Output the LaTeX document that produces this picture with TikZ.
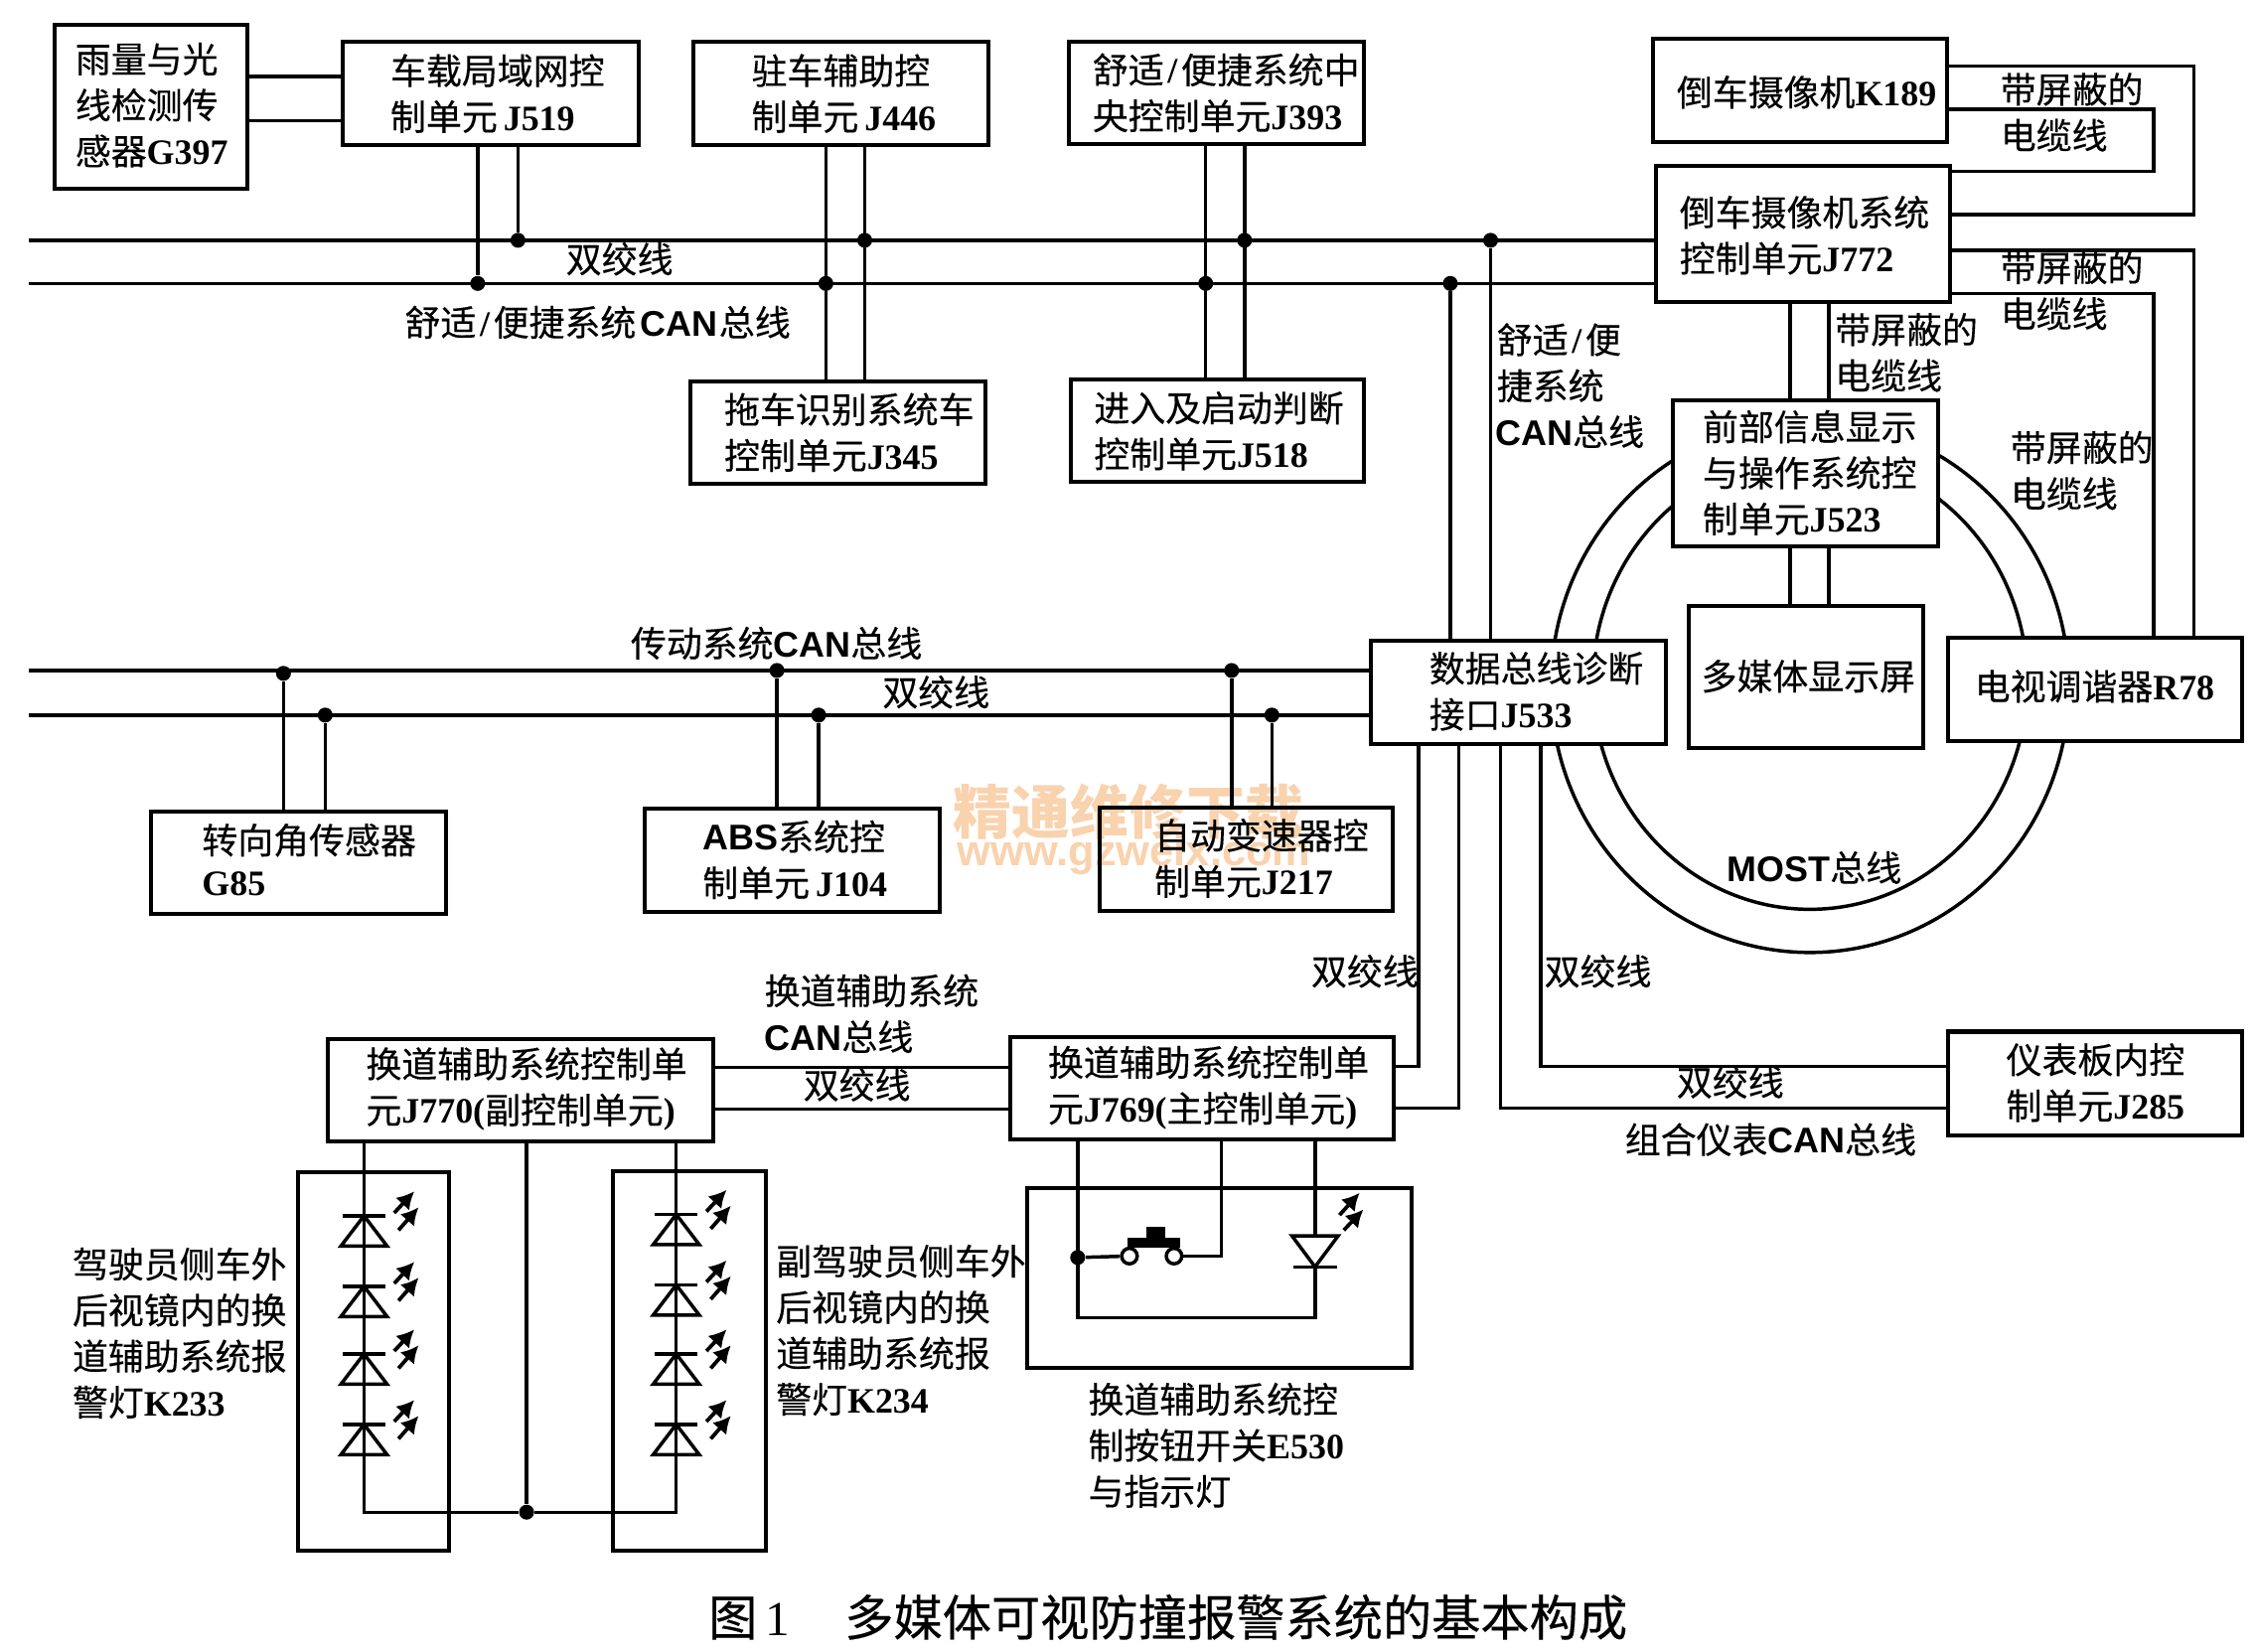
\documentclass[tikz,border=0pt]{standalone}
\usepackage{fontspec}
\usetikzlibrary{arrows.meta,calc}
\setmainfont[FakeBold=0.3]{Noto Sans CJK SC}
\newfontfamily\wmfam{Noto Sans CJK SC}
\newfontfamily\serfam{Liberation Serif}
\newfontfamily\sanfam{Liberation Sans}
\newcommand\ls[1]{{\serfam\bfseries #1}}
\newcommand\lh[1]{{\sanfam\bfseries #1}}
\newcommand\slh{{\serfam\bfseries\kern1.25pt/\kern1.25pt}}
\newcommand\bx[6][]{%
  \pgfmathsetmacro\bxw{(#5-#3)*0.5}%
  \pgfmathsetmacro\bxh{(#6-#4)*0.5}%
  \node[boxshape,minimum width=\bxw pt,minimum height=\bxh pt,#1] (#2) at ({(#3+#5)/2},{(#4+#6)/2}) {};}
\newcommand\ledup[2]{% x, y of bar: bar on top, triangle base below
  \draw[wire,line join=miter] (#1-15,#2) -- (#1+15,#2);
  \draw[wire,line join=miter] (#1,#2) -- (#1-16,#2+21) -- (#1+16,#2+21) -- cycle;
  \draw[ray] (#1+21,#2-2) -- (#1+35,#2-17);
  \draw[ray] (#1+24,#2+10) -- (#1+38,#2-6);}
\tikzset{
  boxshape/.style={draw,line width=1.4pt,fill=white,inner sep=0pt,outer sep=0pt},
  wire/.style={line width=1.2pt},
  ray/.style={line width=1.3pt,-{Latex[length=6pt,width=6.5pt]}},
  dot/.style={circle,fill=black,inner sep=0pt,minimum size=5.2pt},
  swc/.style={circle,draw,line width=1.2pt,fill=white,inner sep=0pt,minimum size=5.4pt},
  lab/.style={anchor=west,inner sep=0pt,align=left,font=\fontsize{12.4pt}{16pt}\selectfont},
}
\definecolor{wmc}{HTML}{F9D2AE}
\begin{document}
\begin{tikzpicture}[x=0.5pt,y=-0.5pt]
\useasboundingbox (0,0) rectangle (1568,1148);
% watermark
\node[anchor=west,inner sep=0pt,text=wmc,font=\fontsize{20.3pt}{22pt}\selectfont\wmfam\bfseries] (wm1) at (662,564) {精通维修下载};
\node[anchor=west,inner sep=0pt,text=wmc,font=\fontsize{15pt}{17pt}\selectfont\sanfam\bfseries] (wm2) at (665,594) {www.gzweix.com};
% MOST ring
\draw[wire] (1258,477) ellipse [x radius=180,y radius=185];
\draw[wire] (1258,474) ellipse [x radius=151,y radius=158];
% boxes
\bx{g397}{38}{17}{172}{131}
\bx{j519}{238}{29}{444}{101}
\bx{j446}{482}{29}{687}{101}
\bx{j393}{743}{29}{948}{100}
\bx{k189}{1149}{27}{1353}{99}
\bx{j772}{1151}{115}{1355}{210}
\bx{j523}{1163}{278}{1347}{380}
\bx{j345}{480}{265}{685}{336}
\bx{j518}{744}{264}{948}{335}
\bx{j533}{953}{445}{1158}{517}
\bx{disp}{1174}{421}{1337}{520}
\bx{r78}{1354}{443}{1558}{515}
\bx{g85}{105}{564}{310}{635}
\bx{j104}{448}{562}{653}{634}
\bx[fill=none]{j217}{764}{561}{968}{633}
\bx{j285}{1354}{717}{1558}{789}
\bx{j769}{702}{721}{969}{792}
\bx{j770}{228}{722}{496}{793}
\bx[fill=none]{ledl}{207}{815}{312}{1078}
\bx[fill=none]{ledr}{426}{814}{532}{1078}
\bx[fill=none]{sw}{714}{826}{981}{951}
% bus end points and junctions
\coordinate (ba) at (20,167);
\coordinate (bb) at (20,197);
\coordinate (bc) at (20,466);
\coordinate (bd) at (20,497);
\node[dot] (d1) at (332,197) {};
\node[dot] (d2) at (360,167) {};
\node[dot] (d3) at (574,197) {};
\node[dot] (d4) at (601,167) {};
\node[dot] (d5) at (838,197) {};
\node[dot] (d6) at (865,167) {};
\node[dot] (d7) at (1008,197) {};
\node[dot] (d8) at (1036,167) {};
\node[dot] (e1) at (197,468) {};
\node[dot] (e2) at (226,497) {};
\node[dot] (e3) at (540,466) {};
\node[dot] (e4) at (569,497) {};
\node[dot] (e5) at (856,466) {};
\node[dot] (e6) at (884,497) {};
\node[dot] (f1) at (366,1051) {};
\node[dot] (f2) at (749,874) {};
% buses
\draw[wire] (ba) -- (j772.west |- ba);
\draw[wire] (bb) -- (j772.west |- bb);
\draw[wire] (bc) -- (j533.west |- bc);
\draw[wire] (bd) -- (j533.west |- bd);
% top row
\coordinate (ga) at (0,53);
\coordinate (gb) at (0,84);
\draw[wire] (g397.east |- ga) -- (j519.west |- ga);
\draw[wire] (g397.east |- gb) -- (j519.west |- gb);
\draw[wire] (j519.south -| d1) -- (d1);
\draw[wire] (j519.south -| d2) -- (d2);
\draw[wire] (j446.south -| d3) -- (j345.north -| d3);
\draw[wire] (j446.south -| d4) -- (j345.north -| d4);
\draw[wire] (j393.south -| d5) -- (j518.north -| d5);
\draw[wire] (j393.south -| d6) -- (j518.north -| d6);
\draw[wire] (d7) -- (j533.north -| d7);
\draw[wire] (d8) -- (j533.north -| d8);
% second bus drops
\draw[wire] (e1) -- (g85.north -| e1);
\draw[wire] (e2) -- (g85.north -| e2);
\draw[wire] (e3) -- (j104.north -| e3);
\draw[wire] (e4) -- (j104.north -| e4);
\draw[wire] (e5) -- (j217.north -| e5);
\draw[wire] (e6) -- (j217.north -| e6);
% shielded cables
\coordinate (c1) at (1244,0);
\coordinate (c2) at (1271,0);
\coordinate (c3) at (1497,0);
\coordinate (c4) at (1525,0);
\coordinate (y1) at (0,46);
\coordinate (y2) at (0,76);
\coordinate (y3) at (0,119);
\coordinate (y4) at (0,149);
\coordinate (y5) at (0,174);
\coordinate (y6) at (0,204);
\draw[wire] (k189.east |- y1) -- (c4 |- y1) -- (c4 |- y4) -- (j772.east |- y4);
\draw[wire] (k189.east |- y2) -- (c3 |- y2) -- (c3 |- y3) -- (j772.east |- y3);
\draw[wire] (j772.east |- y5) -- (c4 |- y5) -- (r78.north -| c4);
\draw[wire] (j772.east |- y6) -- (c3 |- y6) -- (r78.north -| c3);
\draw[wire] (j772.south -| c1) -- (j523.north -| c1);
\draw[wire] (j772.south -| c2) -- (j523.north -| c2);
\draw[wire] (j523.south -| c1) -- (disp.north -| c1);
\draw[wire] (j523.south -| c2) -- (disp.north -| c2);
% J533 downward
\coordinate (x1) at (986,0);
\coordinate (x2) at (1014,0);
\coordinate (x3) at (1043,0);
\coordinate (x4) at (1071,0);
\coordinate (y7) at (0,741);
\coordinate (y8) at (0,770);
\draw[wire] (j533.south -| x1) -- (x1 |- y7) -- (j769.east |- y7);
\draw[wire] (j533.south -| x2) -- (x2 |- y8) -- (j769.east |- y8);
\draw[wire] (j533.south -| x3) -- (x3 |- y8) -- (j285.west |- y8);
\draw[wire] (j533.south -| x4) -- (x4 |- y7) -- (j285.west |- y7);
% J770 - J769
\coordinate (y9) at (0,742);
\coordinate (y10) at (0,771);
\draw[wire] (j770.east |- y9) -- (j769.west |- y9);
\draw[wire] (j770.east |- y10) -- (j769.west |- y10);
% LED strings
\coordinate (la) at (253,0);
\coordinate (lb) at (470,0);
\draw[wire] (j770.south -| la) -- (la |- f1) -- (f1);
\draw[wire] (j770.south -| lb) -- (lb |- f1) -- (f1);
\draw[wire] (j770.south -| f1) -- (f1);
\ledup{253}{845}\ledup{253}{894}\ledup{253}{941}\ledup{253}{990}
\ledup{470}{844}\ledup{470}{893}\ledup{470}{941}\ledup{470}{990}
% switch circuit
\coordinate (sa) at (849,0);
\coordinate (sb) at (914,0);
\coordinate (sy) at (0,916);
\node[swc] (s1) at (785,873) {};
\node[swc] (s2) at (816,873) {};
\draw[wire] (j769.south -| f2) -- (f2 |- sy) -- (sb |- sy) -- (j769.south -| sb);
\draw[wire] (f2) -- (s1);
\draw[wire] (s2) -- (sa |- s2) -- (j769.south -| sa);
\fill (783.5,860) rectangle (820.5,867);
\fill (796.5,853) rectangle (810,860);
\draw[wire,fill=white,line join=miter] (914,880.5) -- (898,859) -- (930,859) -- cycle;
\draw[wire] (899,880.5) -- (929,880.5);
\draw[ray] (931,844.5) -- (945,829);
\draw[ray] (934,855) -- (947.6,840.6);
% labels
\node[lab] (t1) at (52,73) {雨量与光\\线检测传\\感器\ls{G397}};
\node[lab] (t2) at (271,65) {车载局域网控\\制单元\,\ls{J519}};
\node[lab] (t3) at (522,65) {驻车辅助控\\制单元\,\ls{J446}};
\node[lab] (t4) at (759,64.5) {舒适\slh 便捷系统中\\央控制单元\ls{J393}};
\node[lab] (t5) at (1165,64) {倒车摄像机\ls{K189}};
\node[lab] (t6) at (1167,163.5) {倒车摄像机系统\\控制单元\ls{J772}};
\node[lab] (t7) at (1183,328.5) {前部信息显示\\与操作系统控\\制单元\ls{J523}};
\node[lab] (t8) at (503,300.5) {拖车识别系统车\\控制单元\ls{J345}};
\node[lab] (t9) at (760,299.5) {进入及启动判断\\控制单元\ls{J518}};
\node[lab] (t10) at (993,480.5) {数据总线诊断\\接口\ls{J533}};
\node[lab] (t11) at (1182,470) {多媒体显示屏};
\node[lab] (t12) at (1372,477) {电视调谐器\ls{R78}};
\node[lab] (t13) at (140,597.5) {转向角传感器\\[-1.5pt]\ls{G85}};
\node[lab] (t14) at (488,597.5) {\lh{ABS}系统控\\制单元\,\ls{J104}};
\node[lab] (t15) at (802,596.5) {自动变速器控\\制单元\ls{J217}};
\node[lab] (t16) at (1394,752.5) {仪表板内控\\制单元\ls{J285}};
\node[lab] (t17) at (728,756) {换道辅助系统控制单\\元\ls{J769(}主控制单元\ls{)}};
\node[lab] (t18) at (254,757) {换道辅助系统控制单\\元\ls{J770(}副控制单元\ls{)}};
\node[lab] (t19) at (393,180) {双绞线};
\node[lab] (t20) at (281,224) {舒适\slh 便捷系统\hspace{1.5pt}\lh{CAN}\hspace{.5pt}总线};
\node[lab] (t21) at (1040,268) {舒适\slh 便\\捷系统\\{\lh{\kern-.5ptCAN}}总线};
\node[lab] (t22) at (1390,78) {带屏蔽的\\电缆线};
\node[lab] (t23) at (1390,202) {带屏蔽的\\电缆线};
\node[lab] (t24) at (1275,245) {带屏蔽的\\电缆线};
\node[lab] (t25) at (1397,327) {带屏蔽的\\电缆线};
\node[lab] (t26) at (438,447) {传动系统\lh{CAN}总线};
\node[lab] (t27) at (613,481) {双绞线};
\node[lab] (t28) at (1200,603) {\lh{MOST}总线};
\node[lab] (t29) at (911,675) {双绞线};
\node[lab] (t30) at (1073,675) {双绞线};
\node[lab] (t31) at (1165,752) {双绞线};
\node[lab] (t32) at (1129,792) {组合仪表\lh{CAN}总线};
\node[lab] (t33) at (531,704.5) {换道辅助系统\\\lh{CAN}总线};
\node[lab] (t34) at (558,754) {双绞线};
\node[lab] (t35) at (50,926.5) {驾驶员侧车外\\后视镜内的换\\道辅助系统报\\警灯\ls{K233}};
\node[lab] (t36) at (539,924.5) {副驾驶员侧车外\\后视镜内的换\\道辅助系统报\\警灯\ls{K234}};
\node[lab] (t37) at (756,1004.5) {换道辅助系统控\\制按钮开关\ls{E530}\\与指示灯};
\node[anchor=west,inner sep=0pt,font=\fontsize{17pt}{20pt}\selectfont] (cap) at (492,1124) {图\,{\serfam 1}\hspace{19pt}多媒体可视防撞报警系统的基本构成};
\end{tikzpicture}
\end{document}
